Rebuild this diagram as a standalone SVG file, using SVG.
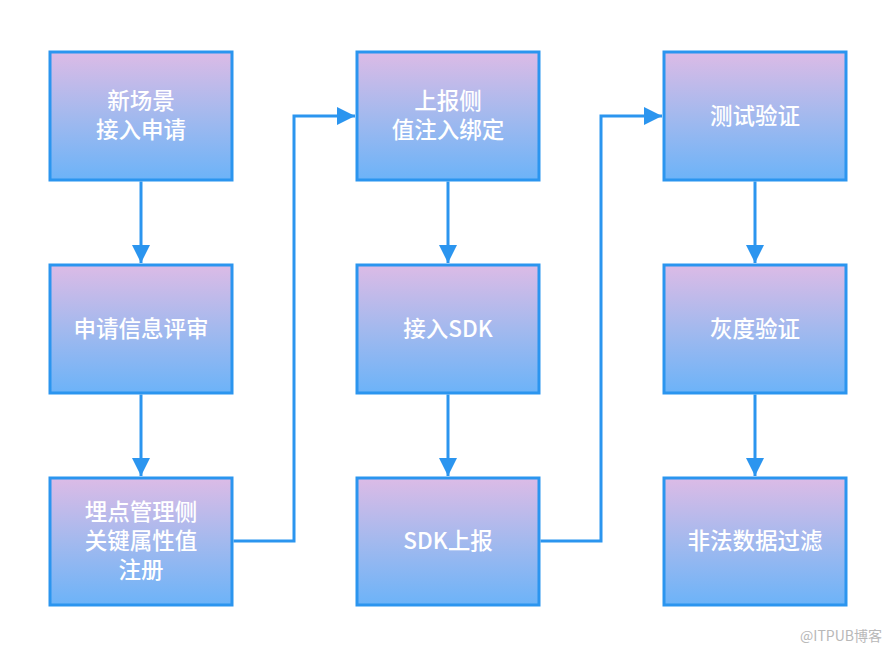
<svg xmlns="http://www.w3.org/2000/svg" width="890" height="652" viewBox="0 0 890 652">
<defs>
<linearGradient id="g" x1="0" y1="0" x2="0" y2="1">
<stop offset="0" stop-color="#dcbbe6"/>
<stop offset="0.5" stop-color="#a3b9ee"/>
<stop offset="1" stop-color="#6cb3f8"/>
</linearGradient>
<marker id="a" viewBox="0 0 10 10" refX="10" refY="5" markerWidth="18" markerHeight="18" markerUnits="userSpaceOnUse" orient="auto">
<path d="M0,0 L10,5 L0,10 z" fill="#2b95ef"/>
</marker>
<style>
.box{fill:url(#g);stroke:#2b95ef;stroke-width:3}
.t{font-family:"Noto Sans CJK SC","Liberation Sans",sans-serif;font-size:22.5px;font-weight:500;fill:#fff;text-anchor:middle}
.c{fill:none;stroke:#2b95ef;stroke-width:3;marker-end:url(#a)}
</style>
</defs>
<rect width="890" height="652" fill="#fff"/>
<g id="n1"><rect class="box" x="50" y="52" width="182" height="128"/><text class="t" x="141" y="109">新场景</text><text class="t" x="141" y="138">接入申请</text></g>
<g id="n2"><rect class="box" x="50" y="265" width="182" height="128"/><text class="t" x="141" y="337">申请信息评审</text></g>
<g id="n3"><rect class="box" x="50" y="478" width="182" height="127"/><text class="t" x="141" y="520">埋点管理侧</text><text class="t" x="141" y="549">关键属性值</text><text class="t" x="141" y="578">注册</text></g>
<g id="n4"><rect class="box" x="357" y="52" width="182" height="128"/><text class="t" x="448" y="109">上报侧</text><text class="t" x="448" y="138">值注入绑定</text></g>
<g id="n5"><rect class="box" x="357" y="265" width="182" height="128"/><text class="t" x="448" y="337">接入SDK</text></g>
<g id="n6"><rect class="box" x="357" y="478" width="182" height="127"/><text class="t" x="448" y="549">SDK上报</text></g>
<g id="n7"><rect class="box" x="664" y="52" width="182" height="128"/><text class="t" x="755" y="124">测试验证</text></g>
<g id="n8"><rect class="box" x="664" y="265" width="182" height="128"/><text class="t" x="755" y="337">灰度验证</text></g>
<g id="n9"><rect class="box" x="664" y="478" width="182" height="127"/><text class="t" x="755" y="549">非法数据过滤</text></g>
<g id="connectors">
<path class="c" d="M141,181.5 V263"/>
<path class="c" d="M141,394.5 V476"/>
<path class="c" d="M448,181.5 V263"/>
<path class="c" d="M448,394.5 V476"/>
<path class="c" d="M755,181.5 V263"/>
<path class="c" d="M755,394.5 V476"/>
<path class="c" d="M233.5,541 H294 V116 H355"/>
<path class="c" d="M540.5,541 H601 V116 H662"/>
</g>
<text x="882" y="641" font-family="'Noto Sans CJK SC','Liberation Sans',sans-serif" font-size="14" fill="#b8b8b8" text-anchor="end">@ITPUB博客</text>
</svg>
